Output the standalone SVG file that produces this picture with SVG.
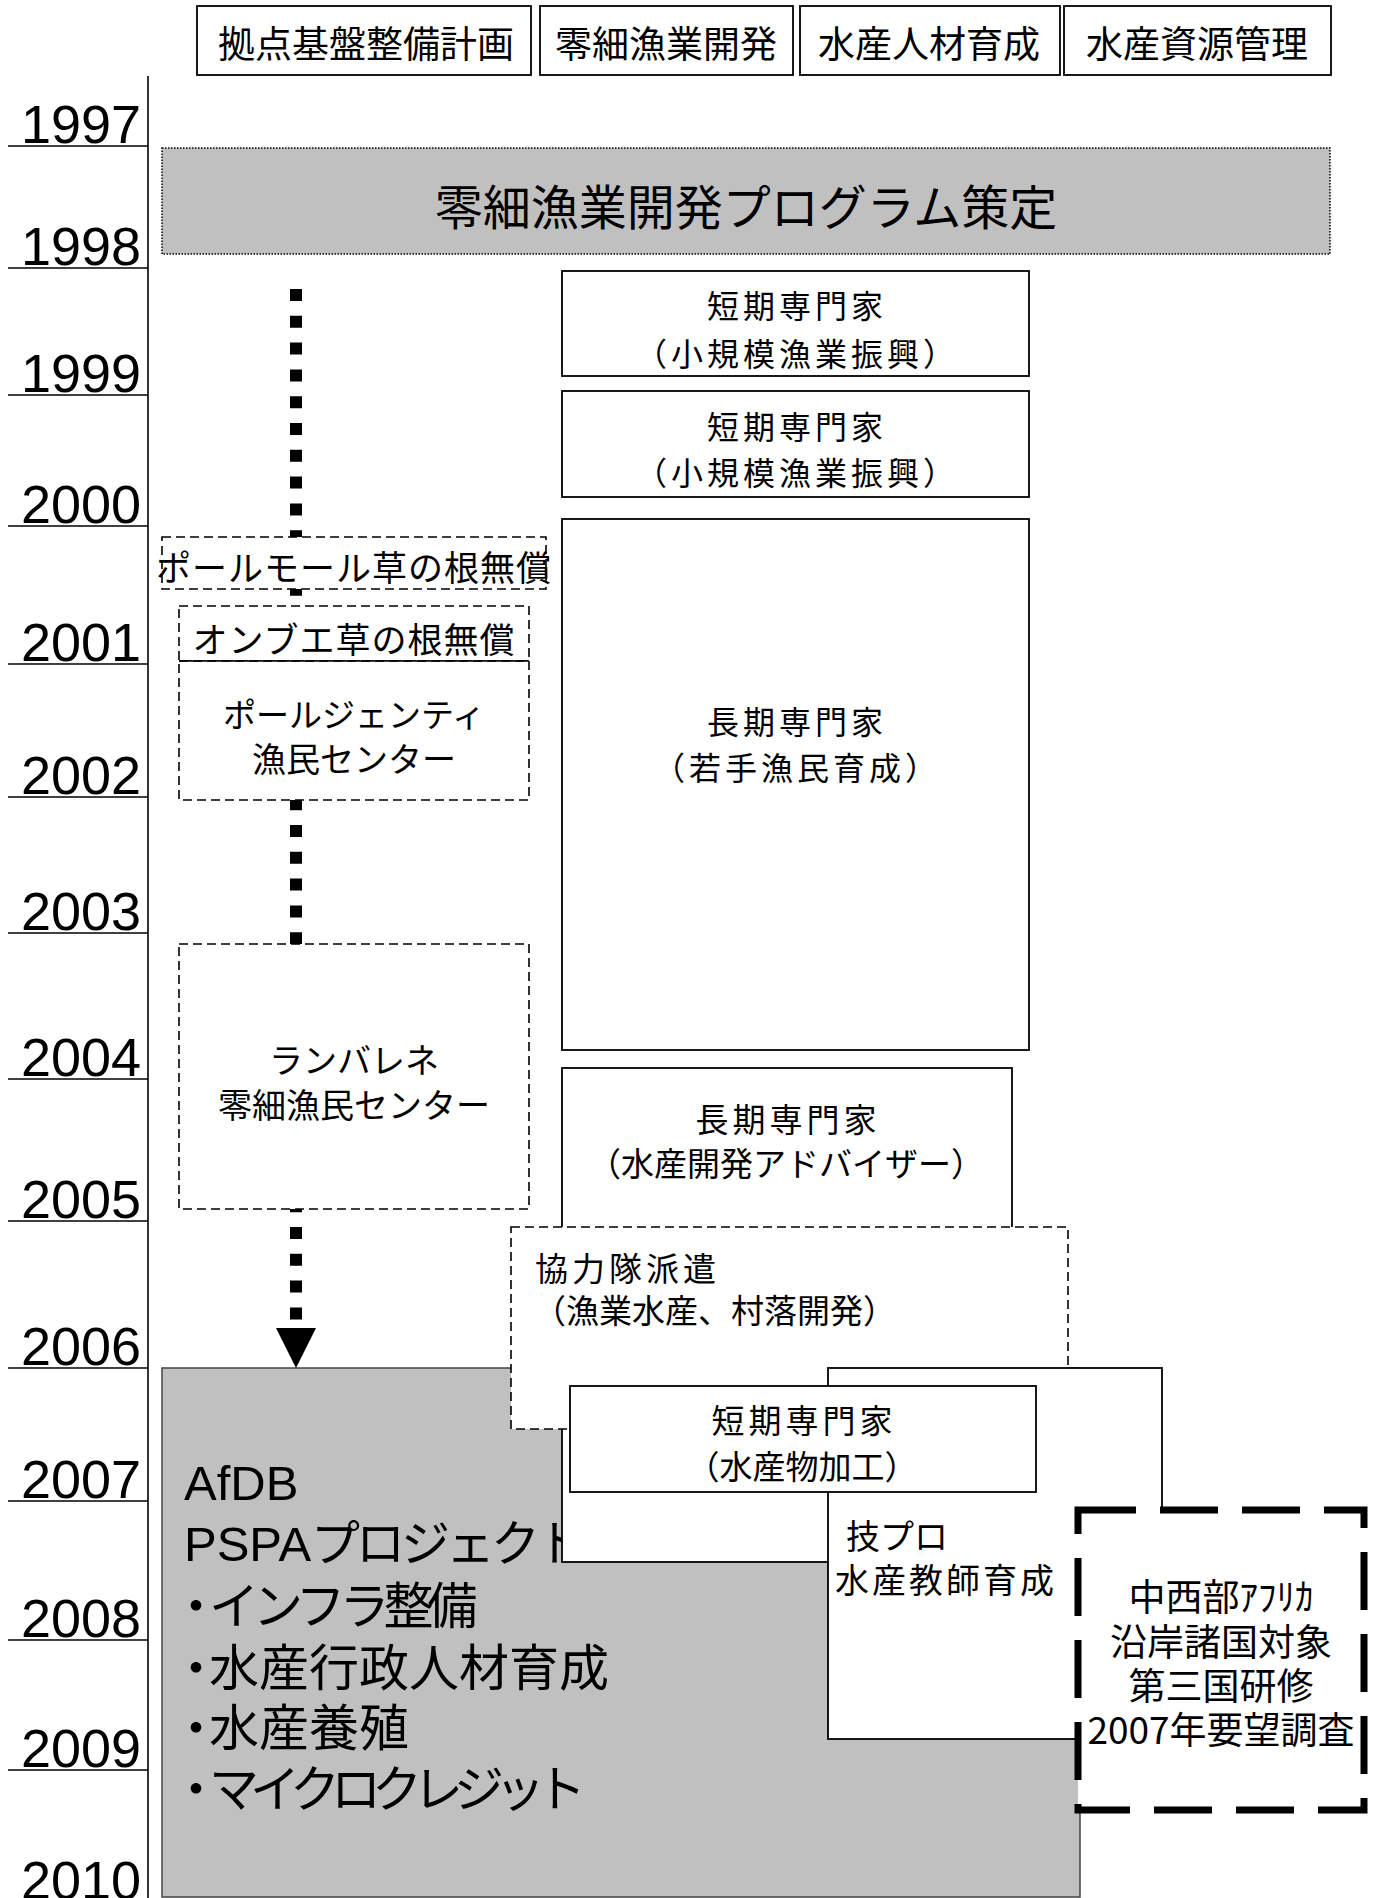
<svg xmlns="http://www.w3.org/2000/svg" width="1375" height="1898" viewBox="0 0 1375 1898">
<style>
text{font-family:"Liberation Sans","Noto Sans CJK JP",sans-serif;fill:#000}
.j{font-family:"Noto Sans CJK JP","Liberation Sans",sans-serif}
.yr{font-size:54px}
.ax{stroke:#000;stroke-width:1.6;fill:none}
.hd{fill:#fff;stroke:#000;stroke-width:1.8}
.sol{fill:#fff;stroke:#000;stroke-width:1.8}
.dsh{fill:#fff;stroke:#000;stroke-width:1.6;stroke-dasharray:9 5}
.mid{text-anchor:middle;dominant-baseline:central}
.lft{dominant-baseline:central}
.bul{font-size:50px}
</style>
<g id="timeline">
<line class="ax" x1="148" y1="76" x2="148" y2="1898"/>
<g class="ax">
<line x1="8" y1="146" x2="148" y2="146"/>
<line x1="8" y1="268" x2="148" y2="268"/>
<line x1="8" y1="395" x2="148" y2="395"/>
<line x1="8" y1="526" x2="148" y2="526"/>
<line x1="8" y1="664" x2="148" y2="664"/>
<line x1="8" y1="797" x2="148" y2="797"/>
<line x1="8" y1="933" x2="148" y2="933"/>
<line x1="8" y1="1079" x2="148" y2="1079"/>
<line x1="8" y1="1221" x2="148" y2="1221"/>
<line x1="8" y1="1368" x2="148" y2="1368"/>
<line x1="8" y1="1501" x2="148" y2="1501"/>
<line x1="8" y1="1640" x2="148" y2="1640"/>
<line x1="8" y1="1770" x2="148" y2="1770"/>
</g>
<text class="yr" x="21" y="143">1997</text>
<text class="yr" x="21" y="265">1998</text>
<text class="yr" x="21" y="392">1999</text>
<text class="yr" x="21" y="523">2000</text>
<text class="yr" x="21" y="661">2001</text>
<text class="yr" x="21" y="794">2002</text>
<text class="yr" x="21" y="930">2003</text>
<text class="yr" x="21" y="1076">2004</text>
<text class="yr" x="21" y="1218">2005</text>
<text class="yr" x="21" y="1365">2006</text>
<text class="yr" x="21" y="1498">2007</text>
<text class="yr" x="21" y="1637">2008</text>
<text class="yr" x="21" y="1767">2009</text>
<text class="yr" x="21" y="1899">2010</text>
</g>
<g id="connectors">
<line x1="296" y1="289" x2="296" y2="1328" stroke="#000" stroke-width="12" stroke-dasharray="12 14.8"/>
</g>
<g id="headers">
<g id="h1"><rect class="hd" x="197" y="6" width="334" height="69"/><text class="j mid" x="366" y="42" font-size="37">拠点基盤整備計画</text></g>
<g id="h2"><rect class="hd" x="540" y="6" width="253" height="69"/><text class="j mid" x="666" y="42" font-size="37">零細漁業開発</text></g>
<g id="h3"><rect class="hd" x="800" y="6" width="260" height="69"/><text class="j mid" x="929" y="42" font-size="37">水産人材育成</text></g>
<g id="h4"><rect class="hd" x="1064" y="6" width="267" height="69"/><text class="j mid" x="1197" y="42" font-size="37">水産資源管理</text></g>
</g>
<g id="banner">
<rect x="162" y="148" width="1168" height="106" fill="#c0c0c0" stroke="#000" stroke-width="1.5" stroke-dasharray="1.5 1.5"/>
<text class="j mid" x="746" y="204" font-size="48">零細漁業開発プログラム策定</text>
</g>
<g id="boxA">
<rect class="sol" x="562" y="271" width="467" height="105"/>
<text class="j mid" x="797" y="304" font-size="32" letter-spacing="4">短期専門家</text>
<text class="j mid" x="797" y="352" font-size="32" letter-spacing="4">（小規模漁業振興）</text>
</g>
<g id="boxB">
<rect class="sol" x="562" y="391" width="467" height="106"/>
<text class="j mid" x="797" y="425" font-size="32" letter-spacing="4">短期専門家</text>
<text class="j mid" x="797" y="471" font-size="32" letter-spacing="4">（小規模漁業振興）</text>
</g>
<g id="boxC">
<rect class="sol" x="562" y="519" width="467" height="531"/>
<text class="j mid" x="797" y="720" font-size="32" letter-spacing="4">長期専門家</text>
<text class="j mid" x="797" y="766" font-size="32" letter-spacing="4">（若手漁民育成）</text>
</g>
<g id="paulmall">
<rect class="dsh" x="162" y="537" width="384" height="52"/>
<text class="j mid" x="354" y="565" font-size="35" letter-spacing="1">ポールモール草の根無償</text>
</g>
<g id="ombue">
<rect class="dsh" x="179" y="606" width="350" height="55"/>
<text class="j mid" x="354" y="637" font-size="35" letter-spacing="1">オンブエ草の根無償</text>
</g>
<g id="portgentil">
<rect class="dsh" x="179" y="661" width="350" height="139"/>
<line x1="179" y1="661" x2="529" y2="661" stroke="#000" stroke-width="1.6"/>
<text class="j mid" x="354" y="713" font-size="33">ポールジェンティ</text>
<text class="j mid" x="354" y="757" font-size="34">漁民センター</text>
</g>
<g id="lambarene">
<rect class="dsh" x="179" y="944" width="350" height="265"/>
<text class="j mid" x="354" y="1058" font-size="34">ランバレネ</text>
<text class="j mid" x="354" y="1103" font-size="34">零細漁民センター</text>
</g>
<g id="boxD">
<rect class="sol" x="562" y="1068" width="450" height="160"/>
<text class="j mid" x="788" y="1118" font-size="33" letter-spacing="4">長期専門家</text>
<text class="j mid" x="786" y="1162" font-size="33">（水産開発アドバイザー）</text>
</g>
<g id="afdb">
<rect x="162" y="1368" width="918" height="529" fill="#c0c0c0" stroke="#444" stroke-width="1.5"/>
<text x="184" y="1500" font-size="49">AfDB</text>
<text x="184" y="1561" font-size="49">PSPA<tspan letter-spacing="-4">プロジェクト</tspan></text>
<text class="j bul" x="171" y="1624">・<tspan dx="-12" letter-spacing="-6">インフラ整備</tspan></text>
<text class="j bul" x="171" y="1686">・<tspan dx="-12">水産行政人材育成</tspan></text>
<text class="j bul" x="171" y="1746">・<tspan dx="-12">水産養殖</tspan></text>
<text class="j bul" x="171" y="1807">・<tspan dx="-12" letter-spacing="-9">マイクロクレジット</tspan></text>
</g>
<g id="hiddenbox">
<rect class="sol" x="562" y="1300" width="267" height="262"/>
</g>
<g id="jocv">
<rect class="dsh" x="511" y="1227" width="557" height="202"/>
<text class="j lft" x="535" y="1267" font-size="33" letter-spacing="4">協力隊派遣</text>
<text class="j lft" x="533" y="1309" font-size="33">（漁業水産、村落開発）</text>
</g>
<g id="gipro">
<rect class="sol" x="828" y="1368" width="334" height="371"/>
<text class="j lft" x="846" y="1534" font-size="34">技プロ</text>
<text class="j lft" x="835" y="1578" font-size="34" letter-spacing="3">水産教師育成</text>
</g>
<g id="boxE">
<rect class="sol" x="570" y="1386" width="466" height="106"/>
<text class="j mid" x="804" y="1419" font-size="33" letter-spacing="4">短期専門家</text>
<text class="j mid" x="802" y="1465" font-size="33">（水産物加工）</text>
</g>
<g id="tcp">
<rect x="1078" y="1510" width="286" height="300" fill="#fff" stroke="#000" stroke-width="7" stroke-dasharray="58 24"/>
<text class="j mid" x="1221" y="1595" font-size="37">中西部ｱﾌﾘｶ</text>
<text class="j mid" x="1221" y="1640" font-size="37">沿岸諸国対象</text>
<text class="j mid" x="1221" y="1684" font-size="37">第三国研修</text>
<text class="j mid" x="1221" y="1728" font-size="37">2007年要望調査</text>
</g>
<g id="arrowhead">
<polygon points="276,1328 316,1328 296,1368" fill="#000"/>
</g>
</svg>
